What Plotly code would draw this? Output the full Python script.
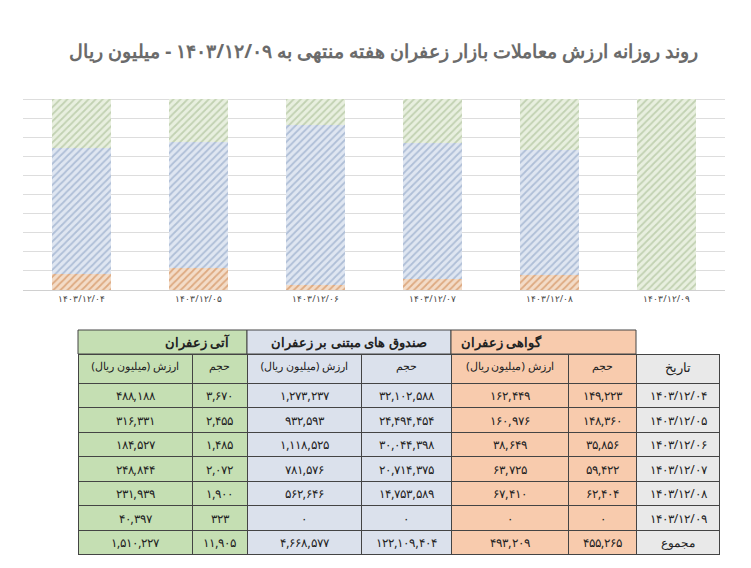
import plotly.graph_objects as go

DATES = ["1403/12/04", "1403/12/05", "1403/12/06", "1403/12/07", "1403/12/08", "1403/12/09"]

CERT_VOL = [149223, 148360, 35856, 59422, 62404, 0]
CERT_VAL = [162449, 160976, 38649, 63725, 67410, 0]
FUND_VOL = [32102588, 24494454, 30044398, 20714375, 14753589, 0]
FUND_VAL = [1273237, 932593, 1118525, 781576, 562646, 0]
FUT_VOL = [3670, 2455, 1485, 2072, 1900, 323]
FUT_VAL = [488188, 316331, 184527, 248844, 231939, 40397]
TOTALS = [1510227, 11905, 4668577, 122109404, 493209, 455265]

FA = str.maketrans("0123456789", "۰۱۲۳۴۵۶۷۸۹")


def fa(v):
    return f"{v:,}".translate(FA)


dates_fa = [d.translate(FA) for d in DATES]

fig = go.Figure()
for name, vals, fg, bg in [
    ("گواهی زعفران", CERT_VAL, "#c8773a", "#f3dcc8"),
    ("صندوق های مبتنی بر زعفران", FUND_VAL, "#7f97bd", "#dfe6f1"),
    ("آتی زعفران", FUT_VAL, "#9bb486", "#e8efdf"),
]:
    fig.add_trace(go.Bar(
        x=dates_fa, y=vals, name=name, width=0.5,
        marker=dict(color=bg, line=dict(width=0),
                    pattern=dict(shape="/", fgcolor=fg, bgcolor=bg, size=5, solidity=0.35)),
        xaxis="x", yaxis="y", showlegend=False,
    ))

# table
cols = [FUT_VAL, FUT_VOL, FUND_VAL, FUND_VOL, CERT_VAL, CERT_VOL]
cell_vals = [[fa(v) for v in c] + [fa(t)] for c, t in zip(cols, TOTALS)]
cell_vals.append(dates_fa + ["مجموع"])
palette = ["#c5dfb3", "#c5dfb3", "#dbe1ec", "#dbe1ec", "#f8cbad", "#f8cbad", "#e9e9e9"]
val_head = "ارزش\u00a0(میلیون\u00a0ریال)"
sub = [val_head, "حجم"] * 3 + ["تاریخ"]
fig.add_trace(go.Table(
    domain=dict(x=[70 / 751, 712 / 751], y=[0.02, 1 - 346 / 568]),
    columnwidth=[115, 55, 115, 90, 118, 68, 84],
    header=dict(values=sub, fill_color=palette, line_color="#444", height=29,
                font=dict(family="Noto Sans", size=[11] * 6 + [13], color="#222"), align="center"),
    cells=dict(values=cell_vals, fill_color=palette, line_color="#444", height=24.5,
               font=dict(family="Noto Sans", size=12, color="#222"), align="center"),
))

# merged group headers above the table (shapes render 8px right of paper origin, like the table)
groups = [("آتی زعفران", 70, 239, "#c5dfb3"),
          ("صندوق های مبتنی بر زعفران", 239, 443, "#dbe1ec"),
          ("گواهی زعفران", 443, 628, "#f8cbad")]
for label, x0, x1, col in groups:
    fig.add_shape(type="rect", xref="paper", yref="paper",
                  x0=x0 / 751, x1=x1 / 751, y0=1 - 346 / 568, y1=1 - 322 / 568,
                  fillcolor=col, line=dict(color="#444", width=1))
    fig.add_annotation(x=(x0 + x1) / 2 / 751, y=1 - 334 / 568, xref="paper", yref="paper",
                       text=f"<b>{label}</b>", showarrow=False,
                       font=dict(family="Noto Sans", size=13, color="#222"))

fig.update_layout(
    width=751, height=568, margin=dict(l=0, r=0, t=0, b=0),
    paper_bgcolor="white", plot_bgcolor="white", barmode="stack", barnorm="percent",
    title=dict(text="<b>روند روزانه ارزش معاملات بازار زعفران هفته منتهی به ۱۴۰۳/۱۲/۰۹ - میلیون ریال</b>",
               x=0.5, y=0.935, font=dict(family="Noto Sans", size=19, color="#6b6b6b")),
    xaxis=dict(domain=[0.02, 0.955], anchor="y", showline=True, linecolor="#d0d0d0",
               tickfont=dict(family="Noto Sans", size=9, color="#444"), ticks=""),
    yaxis=dict(domain=[1 - 282 / 568, 1 - 72 / 568], range=[0, 110], showticklabels=False,
               gridcolor="#dddddd", dtick=10, zeroline=False),
    font=dict(family="Noto Sans"),
)

fig.write_html("out.html")
